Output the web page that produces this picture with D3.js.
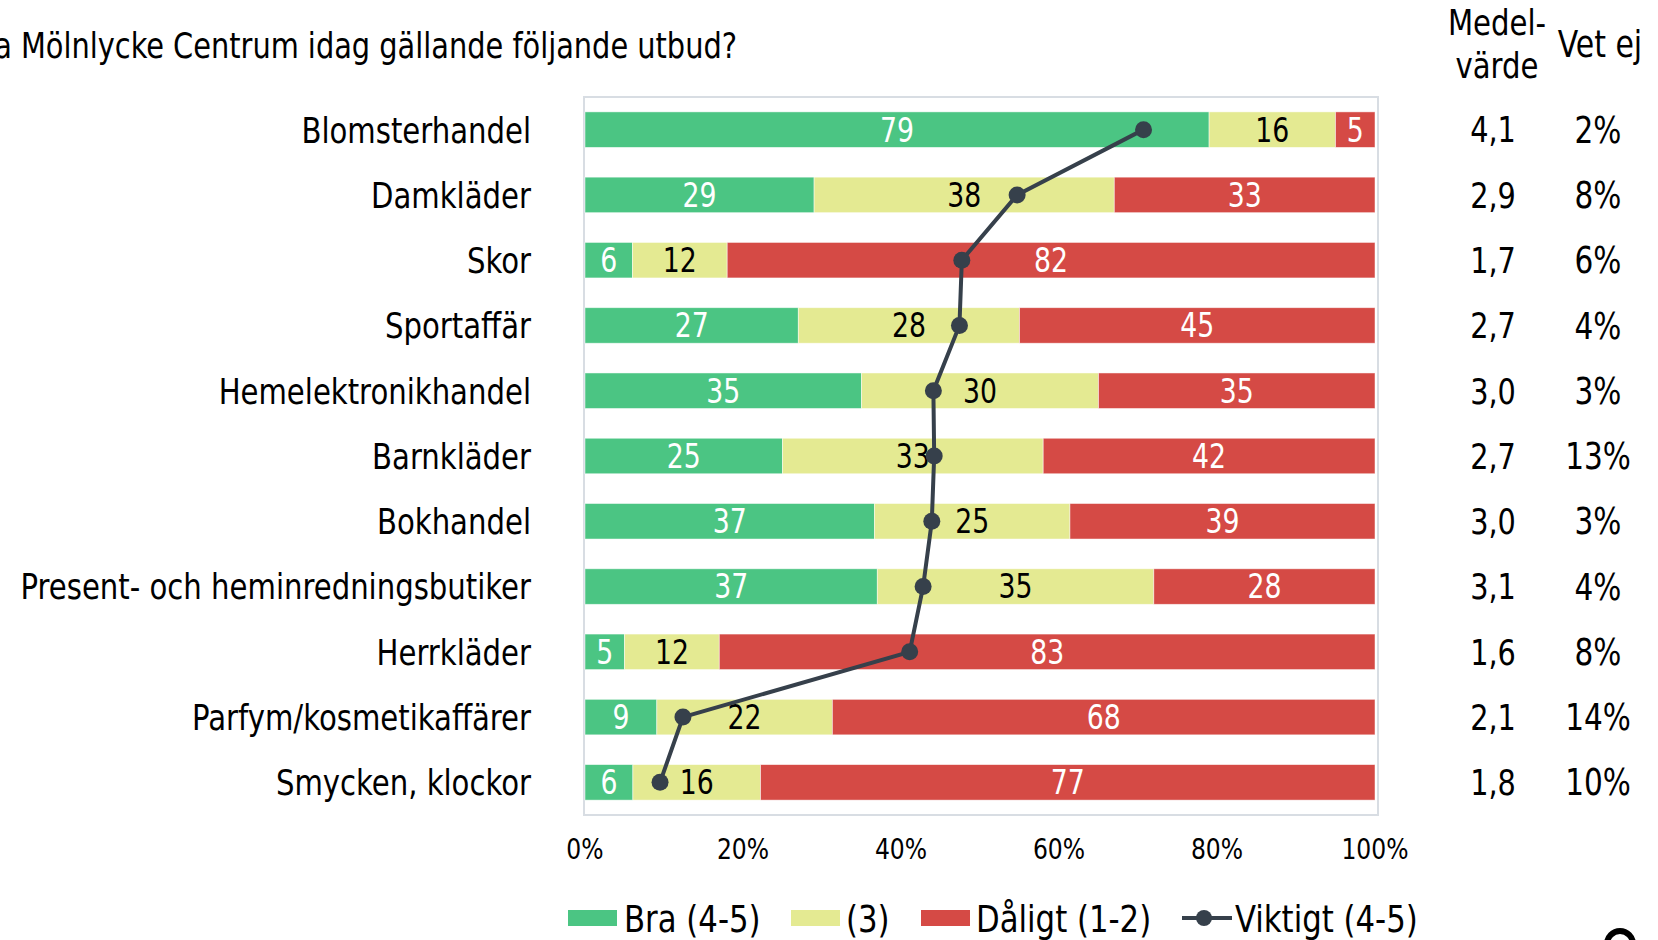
<!DOCTYPE html>
<html><head><meta charset="utf-8">
<script src="https://cdn.jsdelivr.net/npm/d3@7"></script>
<style>
html,body{margin:0;padding:0;background:#fff;overflow:hidden}
text{font-family:"DejaVu Sans Condensed","DejaVu Sans",sans-serif;font-stretch:condensed}
</style></head><body>
<svg id="c" width="1658" height="940"></svg>
<script>
const categories = ["Blomsterhandel","Damkläder","Skor","Sportaffär","Hemelektronikhandel","Barnkläder","Bokhandel","Present- och heminredningsbutiker","Herrkläder","Parfym/kosmetikaffärer","Smycken, klockor"];
const bra = [79,29,6,27,35,25,37,37,5,9,6];
const mitt = [16,38,12,28,30,33,25,35,12,22,16];
const daligt = [5,33,82,45,35,42,39,28,83,68,77];
const viktigt = [70.7,54.7,47.7,47.4,44.1,44.2,43.9,42.8,41.1,12.4,9.5];
const medel = ["4,1","2,9","1,7","2,7","3,0","2,7","3,0","3,1","1,6","2,1","1,8"];
const vetEj = ["2%","8%","6%","4%","3%","13%","3%","4%","8%","14%","10%"];
const xTicks = [0,20,40,60,80,100];
const seriesNames = ["Bra (4-5)","(3)","Dåligt (1-2)","Viktigt (4-5)"];
const colors = ["#4bc583","#e4ea92","#d54a45","#36404b"];
const labelColors = ["#fff","#000","#fff"];
const title = "a Mölnlycke Centrum idag gällande följande utbud?";

const SX = 0.9;
const svg = d3.select("#c");
function txt(x, y, s, size, anchor, fill){
  return svg.append("text").attr("x", x/SX).attr("y", y)
    .attr("transform", `scale(${SX},1)`)
    .attr("font-size", size).attr("text-anchor", anchor||"start")
    .attr("fill", fill||"#000").text(s);
}

const x = d3.scaleLinear().domain([0,100]).range([585,1375]);
const y = d3.scaleBand().domain(categories).range([97,815]).paddingInner(0.456).paddingOuter(0.228);

// frame
svg.append("rect").attr("x",584).attr("y",97).attr("width",794).attr("height",718)
  .attr("fill","none").attr("stroke","#d8dde3").attr("stroke-width",2);

// stacked data
const rows = categories.map((c,i)=>{
  const vals=[bra[i],mitt[i],daligt[i]];
  const tot=d3.sum(vals);
  let acc=0;
  return vals.map((v,k)=>{const s=acc/tot*100; acc+=v; return {c, k, v, x0:s, x1:acc/tot*100};});
});

const g = svg.append("g");
rows.forEach(r=>{
  g.selectAll(null).data(r).enter().append("rect")
    .attr("x",d=>x(d.x0)).attr("y",d=>y(d.c))
    .attr("width",d=>x(d.x1)-x(d.x0)).attr("height",y.bandwidth())
    .attr("fill",d=>colors[d.k]).attr("stroke","#fff").attr("stroke-width",0.8).attr("stroke-opacity",0.6);
});
rows.forEach(r=>{
  r.forEach(d=>{
    txt(x((d.x0+d.x1)/2), y(d.c)+y.bandwidth()/2, d.v, 33, "middle", labelColors[d.k]).attr("dy","0.36em");
  });
});

// line
const line = d3.line().x(d=>x(d.v)).y(d=>y(d.c)+y.bandwidth()/2);
const lp = categories.map((c,i)=>({c, v:viktigt[i]}));
svg.append("path").datum(lp).attr("d",line).attr("fill","none").attr("stroke",colors[3]).attr("stroke-width",4);
svg.selectAll(null).data(lp).enter().append("circle")
  .attr("cx",d=>x(d.v)).attr("cy",d=>y(d.c)+y.bandwidth()/2).attr("r",8.5).attr("fill",colors[3]);

// category labels
categories.forEach(c=>{
  txt(531, y(c)+y.bandwidth()/2, c, 36, "end").attr("dy","0.36em");
});

// x ticks
xTicks.forEach(t=>{
  txt(x(t), 849, t+"%", 29, "middle").attr("dy","0.36em");
});

// right columns
txt(1497, 35, "Medel-", 36, "middle");
txt(1497, 78, "värde", 36, "middle");
txt(1600, 57, "Vet ej", 37, "middle");
categories.forEach((c,i)=>{
  const cy = y(c)+y.bandwidth()/2;
  txt(1493, cy, medel[i], 35.5, "middle").attr("dy","0.36em");
  txt(1598, cy, vetEj[i], 36.5, "middle").attr("dy","0.36em");
});

// title
txt(737, 58, title, 35.6, "end");

// legend
const ly = 918;
const legendPos = [[568,624],[791,846],[921,976]];
legendPos.forEach((p,i)=>{
  svg.append("rect").attr("x",p[0]).attr("y",ly-8).attr("width",49).attr("height",16).attr("fill",colors[i]);
  txt(p[1], ly, seriesNames[i], 38, "start").attr("dy","0.36em");
});
svg.append("line").attr("x1",1182).attr("x2",1232).attr("y1",ly).attr("y2",ly).attr("stroke",colors[3]).attr("stroke-width",4);
svg.append("circle").attr("cx",1204).attr("cy",ly).attr("r",8).attr("fill",colors[3]);
txt(1235, ly, seriesNames[3], 38, "start").attr("dy","0.36em");

// cut-off logo ring at bottom-right
svg.append("circle").attr("cx",1620).attr("cy",944).attr("r",13).attr("fill","none").attr("stroke","#000").attr("stroke-width",6);
</script>
</body></html>
